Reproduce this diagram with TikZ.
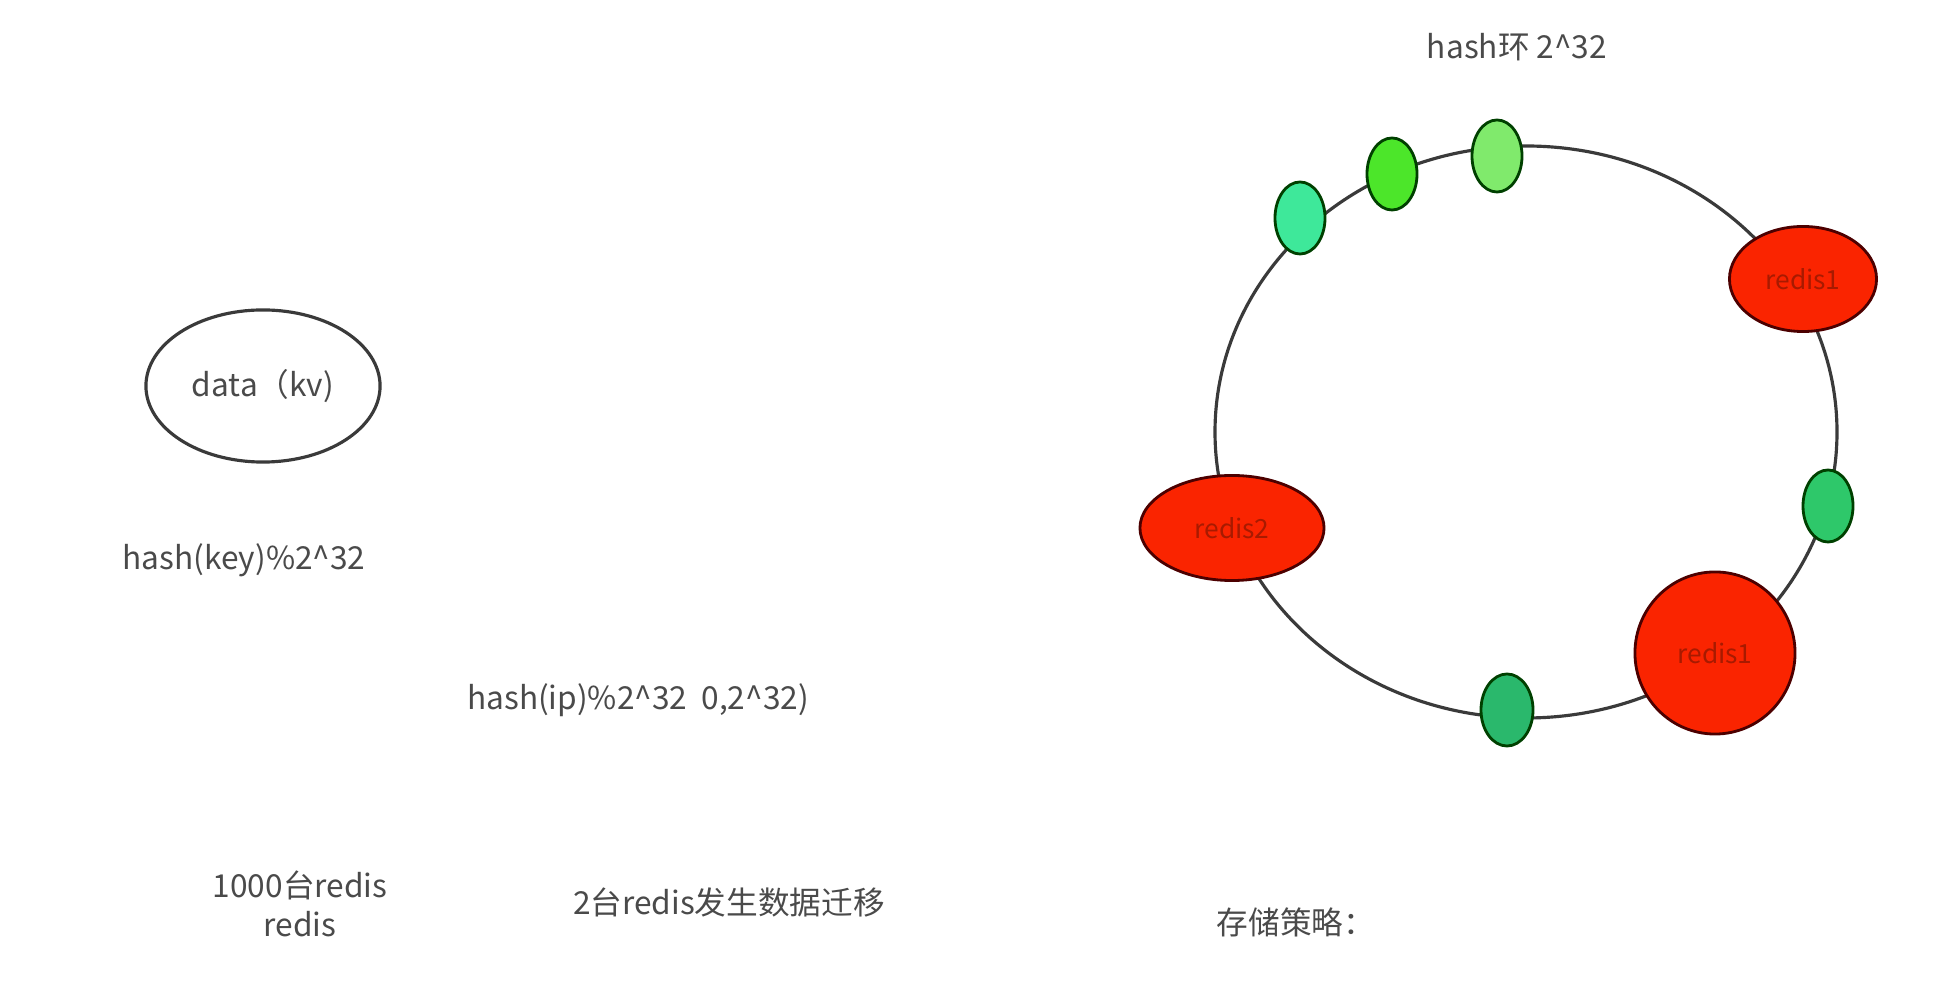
\documentclass[tikz,border=0pt]{standalone}
\usepackage{fontspec}
\setmainfont{Noto Sans CJK SC}
\usetikzlibrary{shapes.geometric,positioning}
\definecolor{txtgray}{HTML}{4A4A4A}
\definecolor{ringgray}{HTML}{3A3A3A}
\definecolor{redfill}{HTML}{FA2400}
\definecolor{redtxt}{HTML}{A81A00}
\definecolor{gAqua}{HTML}{3EE89A}
\definecolor{gLime}{HTML}{4CE62A}
\definecolor{gLight}{HTML}{80EA6C}
\definecolor{gMid}{HTML}{2EC86A}
\definecolor{gDeep}{HTML}{2AB86C}
\tikzset{
  lbl/.style={font=\fontsize{9}{11}\selectfont, text=txtgray, align=center, inner sep=0pt},
  vnode/.style={ellipse, draw=black!75!green, line width=0.8pt,
                minimum width=0.5cm, minimum height=0.72cm, inner sep=0pt},
  rnode/.style={ellipse, draw=black!70!red, line width=0.8pt, fill=redfill,
                font=\fontsize{7.5}{8}\selectfont, text=redtxt, inner sep=0pt}
}
\begin{document}
\begin{tikzpicture}[x=0.01cm, y=-0.01cm]
  \useasboundingbox (0,0) rectangle (1954,992);

  % key side
  \node[ellipse, draw=ringgray, line width=0.9pt, minimum width=2.34cm, minimum height=1.52cm,
        lbl] (data) at (263,386) {data（kv)};
  \node[lbl] (hkey) at (244,560) {hash(key)\%2\^{}32};
  \node[lbl] (hip)  at (638,700) {hash(ip)\%2\^{}32\ \ 0,2\^{}32)};
  \node[lbl] (many) at (300,904) {1000台redis\\redis};
  \node[lbl] (move) at (729,902) {2台redis发生数据迁移};
  \node[lbl] (store) at (1296,922) {存储策略：};

  % hash ring
  \node[lbl] (ring) at (1517,47) {hash环 2\^{}32};
  \draw[ringgray, line width=0.9pt] (1526,432) ellipse [x radius=311, y radius=286];

  % virtual nodes
  \node[vnode, fill=gAqua]  (v1) at (1300,218) {};
  \node[vnode, fill=gLime]  (v2) at (1392,174) {};
  \node[vnode, fill=gLight] (v3) at (1497,156) {};
  \node[vnode, fill=gMid]   (v4) at (1828,506) {};
  \node[vnode, fill=gDeep, minimum width=0.52cm] (v5) at (1507,710) {};

  % real nodes
  \node[rnode, minimum width=1.47cm, minimum height=1.05cm] (r1) at (1803,279) {redis1};
  \node[rnode, minimum width=1.84cm, minimum height=1.05cm] (r2) at (1232,528) {redis2};
  \node[rnode, minimum width=1.6cm, minimum height=1.62cm] (r3) at (1715,653) {redis1};
\end{tikzpicture}
\end{document}
